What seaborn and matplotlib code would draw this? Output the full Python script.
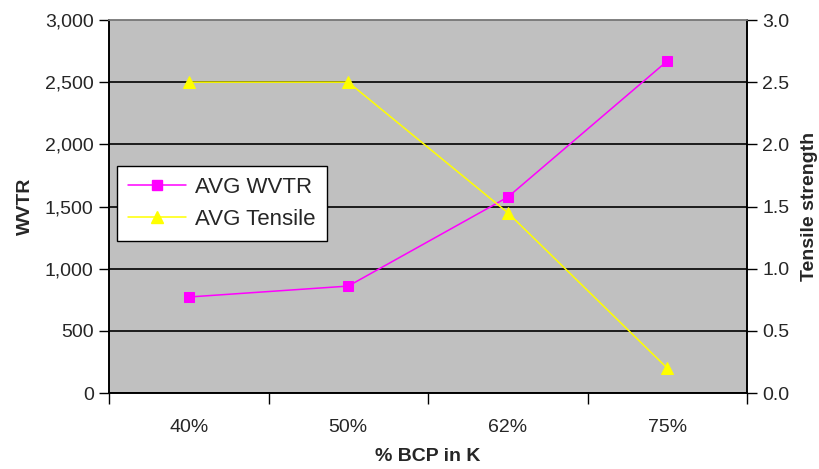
import matplotlib
matplotlib.use("Agg")
import matplotlib.pyplot as plt
import seaborn as sns
import pandas as pd
from matplotlib.lines import Line2D

# Data
categories = ["40%", "50%", "62%", "75%"]
avg_wvtr = [772, 860, 1575, 2670]
avg_tensile = [2.5, 2.5, 1.45, 0.2]

df = pd.DataFrame({"pos": range(len(categories)), "category": categories,
                   "wvtr": avg_wvtr, "tensile": avg_tensile})

sns.set_theme(style="white")
plt.rcParams["font.family"] = ["Liberation Sans", "DejaVu Sans"]

fig = plt.figure(figsize=(8.19, 4.69), dpi=100)
ax = fig.add_axes([109 / 819, 76 / 469, 638 / 819, 373 / 469])
ax.set_facecolor("#C0C0C0")

magenta = "#FF00FF"
yellow = "#FFFF00"
line_w = 1.1

sns.lineplot(data=df, x="pos", y="wvtr", ax=ax, color=magenta, linewidth=line_w,
             marker="s", markersize=6.5, markeredgecolor=magenta, zorder=3)
ax.set_ylim(0, 3000)
ax.set_yticks(range(0, 3001, 500))
ax.set_yticklabels([f"{v:,}" for v in range(0, 3001, 500)])
ax.yaxis.grid(True, color="black", linewidth=1.2)
ax.set_axisbelow(True)

ax2 = ax.twinx()
sns.lineplot(data=df, x="pos", y="tensile", ax=ax2, color=yellow, linewidth=line_w,
             marker="^", markersize=8.5, markeredgecolor=yellow, zorder=3)
ax2.set_ylim(0, 3.0)
ax2.set_yticks([i * 0.5 for i in range(7)])
ax2.set_yticklabels([f"{i * 0.5:.1f}" for i in range(7)])

# Category axis: tick marks at the boundaries, labels at the centres
ax.set_xlim(-0.5, len(categories) - 0.5)
ax.set_xticks([i - 0.5 for i in range(len(categories) + 1)])
ax.set_xticklabels([])
ax.set_xticks(range(len(categories)), minor=True)
ax.set_xticklabels(categories, minor=True)
ax.tick_params(axis="x", which="major", direction="out", length=8, width=1,
               color="black", bottom=True)
ax.tick_params(axis="x", which="minor", length=0, pad=19, labelsize=14)
ax.tick_params(axis="y", direction="out", length=7, width=1, color="black",
               left=True, labelsize=14, pad=4)
ax2.tick_params(axis="y", direction="out", length=7, width=1, color="black",
                right=True, labelsize=14, pad=4)

for a in (ax, ax2):
    for side in ("left", "right", "bottom"):
        a.spines[side].set_color("black")
        a.spines[side].set_linewidth(1.2)
    a.spines["top"].set_color("#808080")
    a.spines["top"].set_linewidth(1.2)

ax.set_xlabel("% BCP in K", fontsize=14, fontweight="bold", labelpad=8)
ax.set_ylabel("WVTR", fontsize=14, fontweight="bold", labelpad=8)
ax2.set_ylabel("Tensile strength", fontsize=14, fontweight="bold", labelpad=8)

handles = [
    Line2D([], [], color=magenta, marker="s", markersize=6.5, linewidth=line_w,
           markeredgecolor=magenta),
    Line2D([], [], color=yellow, marker="^", markersize=8.5, linewidth=line_w,
           markeredgecolor=yellow),
]
leg = ax2.legend(handles, ["AVG WVTR", "AVG Tensile"], loc="lower left",
                 bbox_to_anchor=(0.013, 0.407), fontsize=16, frameon=True,
                 fancybox=False, framealpha=1, edgecolor="black",
                 handlelength=2.6, handletextpad=0.4, borderpad=0.5,
                 labelspacing=0.5, borderaxespad=0)
leg.get_frame().set_linewidth(1.0)
leg.set_zorder(5)

fig.savefig("out.png", dpi=100)
